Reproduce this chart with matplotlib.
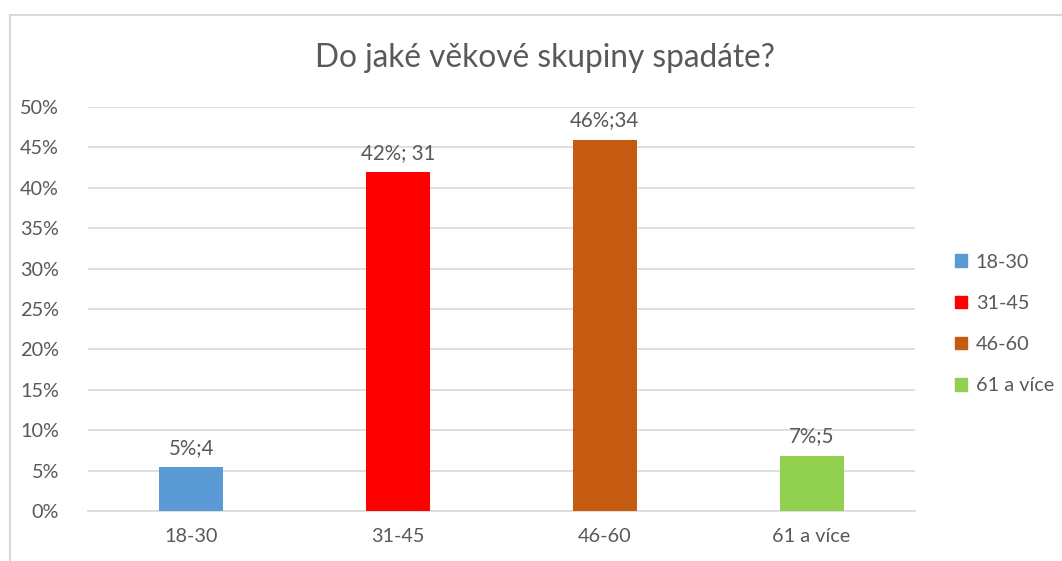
import matplotlib
matplotlib.use("Agg")
import matplotlib.pyplot as plt
from matplotlib.patches import Rectangle, Patch
from matplotlib.ticker import PercentFormatter

categories = ["18-30", "31-45", "46-60", "61 a více"]
values = [0.054, 0.419, 0.459, 0.068]
labels = ["5%;4", "42%; 31", "46%;34", "7%;5"]
colors = ["#5B9BD5", "#FF0000", "#C55A11", "#92D050"]
title = "Do jaké věkové skupiny spadáte?"

plt.rcParams['font.family'] = ['Lato', 'DejaVu Sans']
txt = "#595959"

fig = plt.figure(figsize=(10.62, 5.61), dpi=100)
ax = fig.add_axes([88/1062, 1-511/561, (915-88)/1062, (511-107)/561])

x = range(len(categories))
bars = ax.bar(x, values, width=0.31, color=colors, zorder=3)
for xi, v, lab in zip(x, values, labels):
    ax.annotate(lab, (xi, v), xytext=(0, 7), textcoords="offset points",
                ha="center", va="bottom", fontsize=14.8, color=txt)

ax.set_xlim(-0.5, 3.5)
ax.set_ylim(0, 0.5)
ax.set_yticks([i*0.05 for i in range(11)])
ax.yaxis.set_major_formatter(PercentFormatter(1.0, decimals=0))
ax.set_xticks(list(x))
ax.set_xticklabels(categories)
ax.tick_params(axis='both', length=0, labelsize=14.3, colors=txt)
ax.tick_params(axis='y', pad=21)
ax.tick_params(axis='x', pad=12)
ax.grid(axis='y', color="#D9D9D9", linewidth=1.2, zorder=0)
for s in ["top", "right", "left"]:
    ax.spines[s].set_visible(False)
ax.spines["bottom"].set_color("#D9D9D9")
ax.spines["bottom"].set_linewidth(1.2)

fig.text(545/1062, 1-58/561, title, ha="center", va="center", fontsize=22.8, color=txt)

handles = [Patch(facecolor=c, edgecolor=c) for c in colors]
leg = fig.legend(handles, categories, loc="center left", bbox_to_anchor=(937/1062, 1-324/561),
                 frameon=False, fontsize=14.3, labelcolor=txt, handlelength=0.6, handleheight=0.6,
                 handletextpad=0.45, labelspacing=1.22)

fig.add_artist(Rectangle((10/1062, -0.05), 1.2, 1-15/561+0.05, transform=fig.transFigure,
                         fill=False, edgecolor="#D9D9D9", linewidth=1.5, clip_on=False))

fig.savefig("out.png", dpi=100)
